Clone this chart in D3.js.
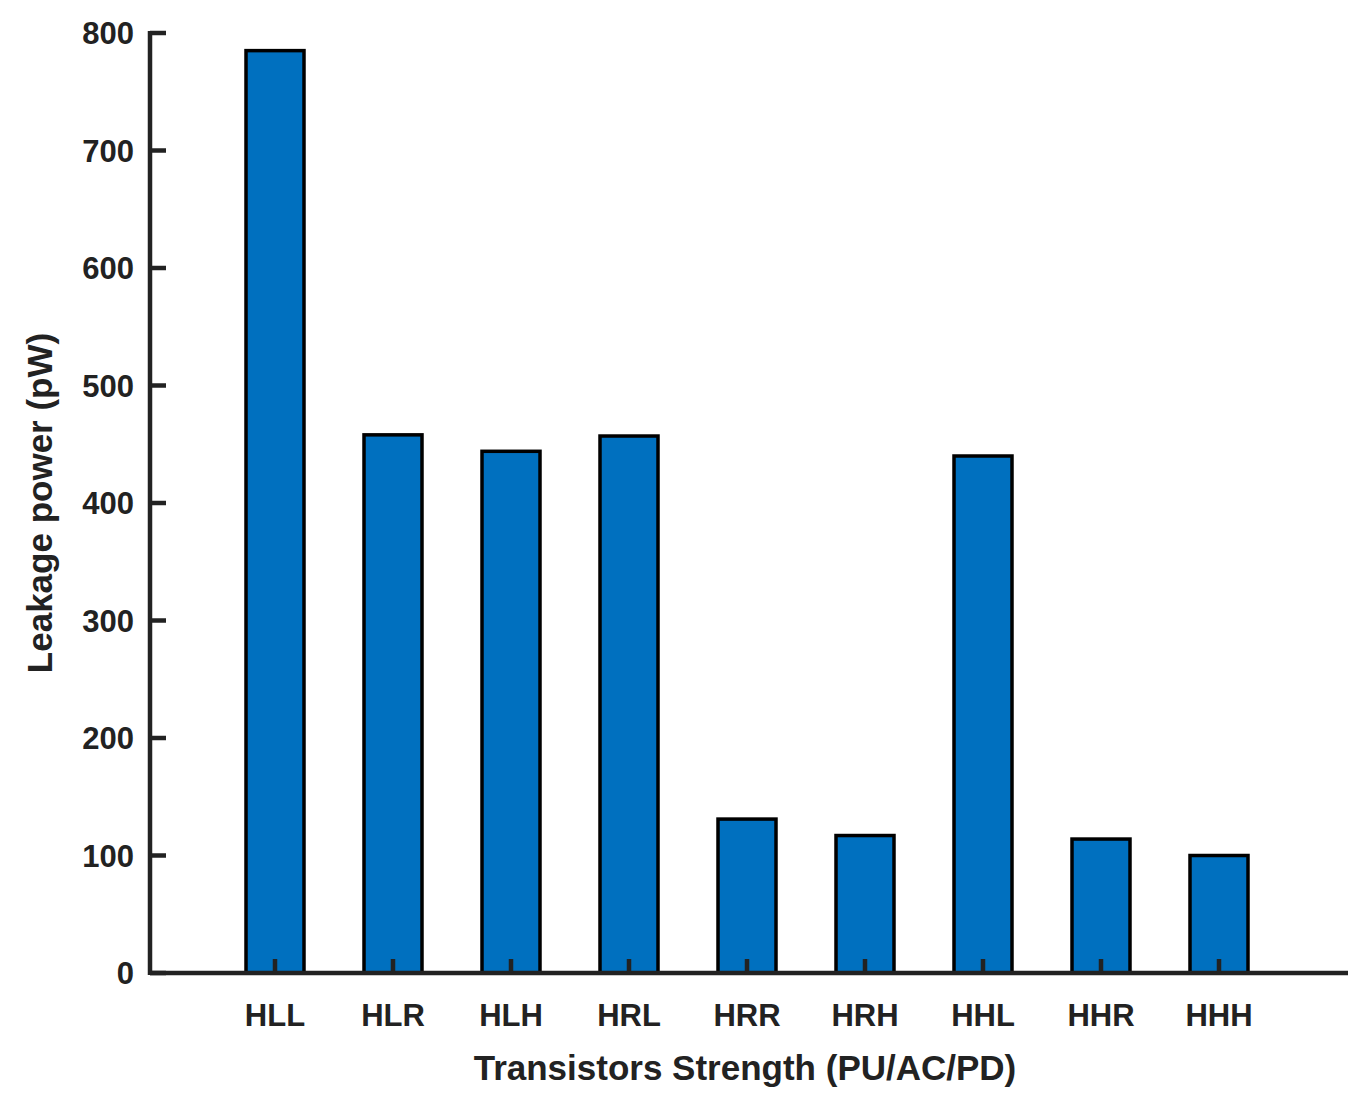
<!DOCTYPE html>
<html><head><meta charset="utf-8">
<script src="https://cdn.jsdelivr.net/npm/d3@7"></script>
<style>body{margin:0;background:#fff}text{font-family:"Liberation Sans",Arial,sans-serif;font-weight:bold;fill:#222}</style>
</head><body>
<svg id="c" width="1367" height="1104"></svg>
<script>
var categories = ["HLL","HLR","HLH","HRL","HRR","HRH","HHL","HHR","HHH"];
var leakage = [785, 458, 444, 457, 131, 117, 440, 114, 100];
var yTicks = [0,100,200,300,400,500,600,700,800];

var svg = d3.select("#c");
var x = d3.scaleLinear().domain([0, 8]).range([275, 1219]);
var y = d3.scaleLinear().domain([0, 800]).range([973, 33]);
var bw = 58;

svg.selectAll("rect.bar").data(leakage).enter().append("rect")
  .attr("x", (d,i) => x(i) - bw/2)
  .attr("y", d => y(d))
  .attr("width", bw)
  .attr("height", d => y(0) - y(d))
  .attr("fill", "#0070BF")
  .attr("stroke", "#000")
  .attr("stroke-width", 3.5);

// x axis
var xa = svg.append("g");
xa.append("line").attr("x1",150).attr("x2",1348).attr("y1",y(0)).attr("y2",y(0))
  .attr("stroke","#222").attr("stroke-width",4.5);
categories.forEach(function(c,i){
  xa.append("line").attr("x1",x(i)).attr("x2",x(i)).attr("y1",y(0)).attr("y2",y(0)-14)
    .attr("stroke","#222").attr("stroke-width",4.5);
  xa.append("text").attr("x",x(i)).attr("y",1026).attr("text-anchor","middle")
    .attr("font-size",31).text(c);
});

// y axis
var ya = svg.append("g");
ya.append("line").attr("x1",150).attr("x2",150).attr("y1",y(0)+2).attr("y2",y(800)-2)
  .attr("stroke","#222").attr("stroke-width",4.5);
yTicks.forEach(function(t){
  ya.append("line").attr("x1",150).attr("x2",166).attr("y1",y(t)).attr("y2",y(t))
    .attr("stroke","#222").attr("stroke-width",4.5);
  ya.append("text").attr("x",134).attr("y",y(t)+11).attr("text-anchor","end")
    .attr("font-size",31).text(t);
});

svg.append("text").attr("x",745).attr("y",1080).attr("text-anchor","middle")
  .attr("font-size",35).text("Transistors Strength (PU/AC/PD)");
svg.append("text").attr("transform","translate(52,503) rotate(-90)").attr("text-anchor","middle")
  .attr("font-size",35).text("Leakage power (pW)");
</script>
</body></html>
